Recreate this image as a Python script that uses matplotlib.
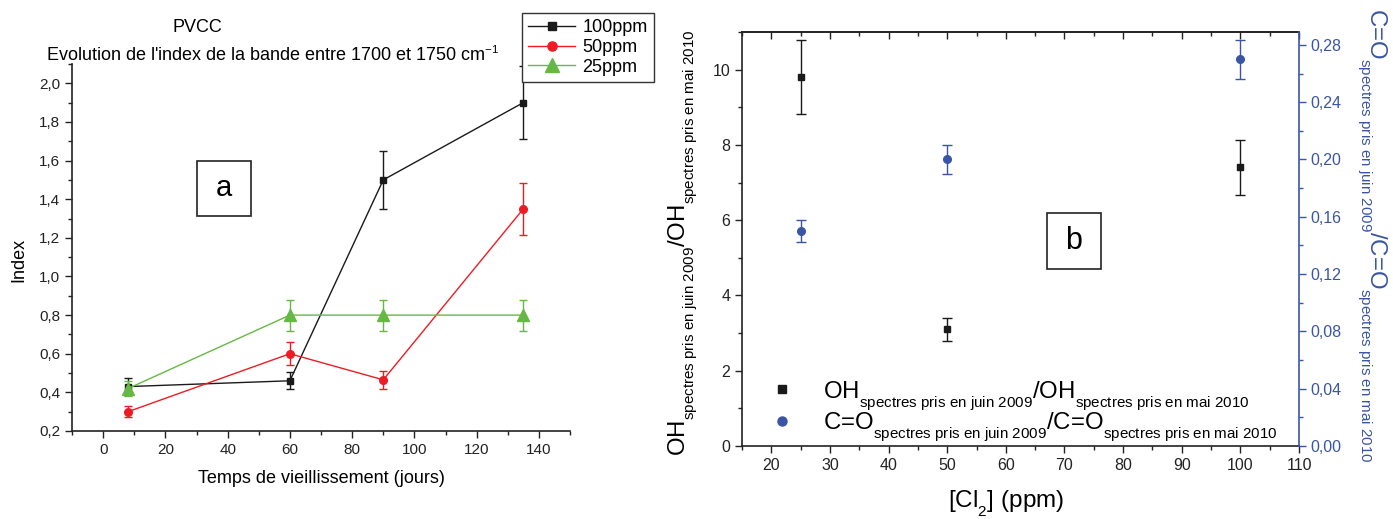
import matplotlib
matplotlib.use("Agg")
import matplotlib.pyplot as plt
import matplotlib._mathtext as mathtext_internals
from matplotlib.lines import Line2D
from matplotlib.patches import Rectangle
from matplotlib.ticker import MultipleLocator, FuncFormatter

plt.rcParams['font.family'] = ['Liberation Sans', 'DejaVu Sans']
plt.rcParams['mathtext.fontset'] = 'custom'
plt.rcParams['mathtext.rm'] = 'Liberation Sans'
plt.rcParams['mathtext.it'] = 'Liberation Sans:italic'
plt.rcParams['mathtext.bf'] = 'Liberation Sans:bold'
# Origin-style subscripts: smaller and dropped lower than mathtext default
mathtext_internals.SHRINK_FACTOR = 0.63
mathtext_internals.FontConstantsBase.sub1 = 0.75

# panel a : index vs ageing time
days = [8, 60, 90, 135]
idx_100 = [0.43, 0.46, 1.50, 1.90]
err_100 = [0.045, 0.045, 0.15, 0.19]
idx_50 = [0.30, 0.60, 0.465, 1.35]
err_50 = [0.03, 0.06, 0.045, 0.135]
idx_25 = [0.42, 0.80, 0.80, 0.80]
err_25 = [0.04, 0.08, 0.08, 0.08]
labels_a = ["100ppm", "50ppm", "25ppm"]

# panel b : ratios vs Cl2 concentration
cl2 = [25, 50, 100]
oh_ratio = [9.8, 3.1, 7.4]
oh_err = [0.98, 0.31, 0.74]
co_ratio = [0.150, 0.200, 0.270]
co_err = [0.0075, 0.010, 0.0135]

BLACK = "#1a1a1a"
RED = "#ed1c24"
GREEN = "#66b845"
BLUE = "#3a55a5"

W, H = 1393, 519
fig = plt.figure(figsize=(W / 100, H / 100), dpi=100)


def fx(px):
    return px / W


def fy(px):
    return 1 - px / H


comma1 = FuncFormatter(lambda v, p: f"{v:.1f}".replace(".", ","))
comma2 = FuncFormatter(lambda v, p: f"{v:.2f}".replace(".", ","))

# ---------------- panel a ----------------
axa = fig.add_axes([fx(72), fy(431), (570 - 72) / W, (431 - 64) / H])
series = [(idx_100, err_100, BLACK, "s", 4.5),
          (idx_50, err_50, RED, "o", 5.5),
          (idx_25, err_25, GREEN, "^", 8)]
handles = []
for vals, errs, col, mk, ms in series:
    eb = axa.errorbar(days, vals, yerr=errs, color=col, marker=mk, ms=ms,
                      lw=1, elinewidth=1, capsize=3, capthick=1)
    handles.append(eb[0])

axa.set_xlim(-10, 150)
axa.set_ylim(0.2, 2.1)
axa.xaxis.set_major_locator(MultipleLocator(20))
axa.xaxis.set_minor_locator(MultipleLocator(10))
axa.yaxis.set_major_locator(MultipleLocator(0.2))
axa.yaxis.set_minor_locator(MultipleLocator(0.1))
axa.yaxis.set_major_formatter(comma1)
for s in ["top", "right"]:
    axa.spines[s].set_visible(False)
for s in ["left", "bottom"]:
    axa.spines[s].set_linewidth(1.2)
    axa.spines[s].set_color("#222222")
axa.tick_params(which="major", direction="out", length=5, width=1, labelsize=11, colors="#222222")
axa.tick_params(which="minor", direction="out", length=3, width=1, colors="#222222")

axa.set_xlabel("Temps de vieillissement (jours)", fontsize=13)
axa.xaxis.set_label_coords(0.5, (431 - 470) / 367)
axa.set_ylabel("Index", fontsize=13)
axa.yaxis.set_label_coords(-0.09, 0.467)

fig.text(fx(197), fy(28), "PVCC", ha="center", va="center", fontsize=13)
fig.text(fx(273), fy(55), "Evolution de l'index de la bande entre 1700 et 1750 cm$^{-1}$",
         ha="center", va="center", fontsize=13)

leg = fig.legend(handles, labels_a, loc="upper left", bbox_to_anchor=(fx(522), fy(13)),
                 fontsize=13, frameon=True, fancybox=False, edgecolor="#333333",
                 framealpha=1, handlelength=2.6, labelspacing=0.15, borderpad=0.35,
                 handletextpad=0.4, borderaxespad=0, markerscale=1.2)
leg.get_frame().set_linewidth(1)

fig.add_artist(Rectangle((fx(197), fy(216)), (251 - 197) / W, (216 - 161) / H,
                         transform=fig.transFigure, fill=False, ec="#222222", lw=1.2))
fig.text(fx(224), fy(188), "a", ha="center", va="center", fontsize=21)

# ---------------- panel b ----------------
axb = fig.add_axes([fx(742), fy(446), (1299 - 742) / W, (446 - 32) / H])
axb.errorbar(cl2, oh_ratio, yerr=oh_err, fmt="s", color=BLACK, ms=5,
             elinewidth=1, capsize=3.5, capthick=1)
axb.set_xlim(15, 110)
axb.set_ylim(0, 11)
axb.xaxis.set_major_locator(MultipleLocator(10))
axb.xaxis.set_minor_locator(MultipleLocator(5))
axb.yaxis.set_major_locator(MultipleLocator(2))
axb.yaxis.set_minor_locator(MultipleLocator(1))
axb.tick_params(which="major", direction="out", length=5, width=1, labelsize=11.5, colors="#222222")
axb.tick_params(which="minor", direction="out", length=3, width=1, colors="#222222")
axb.spines["right"].set_visible(False)
for s in ["left", "bottom", "top"]:
    axb.spines[s].set_linewidth(1.2)
    axb.spines[s].set_color("#222222")

top = axb.secondary_xaxis("top")
top.xaxis.set_major_locator(MultipleLocator(10))
top.xaxis.set_minor_locator(MultipleLocator(5))
top.tick_params(which="major", direction="in", length=5, width=1, labeltop=False, colors="#222222")
top.tick_params(which="minor", direction="in", length=3, width=1, colors="#222222")
top.spines["top"].set_linewidth(1.2)
top.spines["top"].set_color("#222222")

axr = axb.twinx()
axr.errorbar(cl2, co_ratio, yerr=co_err, fmt="o", color=BLUE, ms=5.5,
             elinewidth=1, capsize=3.5, capthick=1)
axr.set_ylim(0, 0.289)
axr.yaxis.set_major_locator(MultipleLocator(0.04))
axr.yaxis.set_minor_locator(MultipleLocator(0.02))
axr.yaxis.set_major_formatter(comma2)
axr.tick_params(which="major", direction="out", length=5, width=1, labelsize=11.5, colors=BLUE)
axr.tick_params(which="minor", direction="out", length=3, width=1, colors=BLUE)
axr.spines["right"].set_color(BLUE)
axr.spines["right"].set_linewidth(1.2)
for s in ["left", "top", "bottom"]:
    axr.spines[s].set_visible(False)

oh_label = r"OH$_{\mathrm{spectres\ pris\ en\ juin\ 2009}}$/OH$_{\mathrm{spectres\ pris\ en\ mai\ 2010}}$"
co_label = r"C=O$_{\mathrm{spectres\ pris\ en\ juin\ 2009}}$/C=O$_{\mathrm{spectres\ pris\ en\ mai\ 2010}}$"

axb.set_ylabel(oh_label, fontsize=17.3)
axb.yaxis.set_label_coords(-0.075, 0.492)
axr.set_ylabel(co_label, fontsize=17.3, color=BLUE)
axr.yaxis.set_label_coords(1.1, 0.51)
axr.yaxis.label.set_rotation(270)
axr.yaxis.label.set_va("bottom")

axb.set_xlabel(r"[Cl$_2$] (ppm)", fontsize=17.5)
axb.xaxis.set_label_coords(0.475, (446 - 488) / 414)

leg_handles = [Line2D([], [], ls="none", marker="s", ms=6, color=BLACK),
               Line2D([], [], ls="none", marker="o", ms=6.5, color=BLUE)]
axb.legend(leg_handles, [oh_label, co_label], loc="upper left",
           bbox_to_anchor=(0.052, (446 - 379) / 414), frameon=False, fontsize=17.3,
           handlelength=0.9, handletextpad=1.25, labelspacing=-0.08, borderpad=0,
           borderaxespad=0)

fig.add_artist(Rectangle((fx(1047), fy(269)), (1101 - 1047) / W, (269 - 213) / H,
                         transform=fig.transFigure, fill=False, ec="#222222", lw=1.2))
fig.text(fx(1074), fy(241), "b", ha="center", va="center", fontsize=22)

fig.savefig("out.png", dpi=100)
